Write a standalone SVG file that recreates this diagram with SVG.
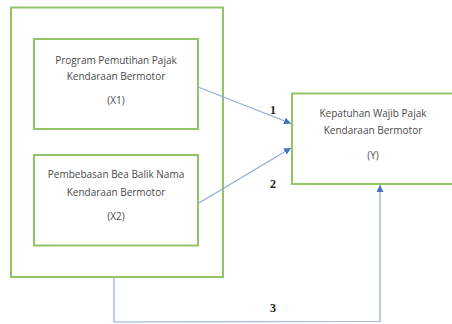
<svg xmlns="http://www.w3.org/2000/svg" width="452" height="324" viewBox="0 0 452 324">
<style>
.box{fill:#fff;stroke:#92c565;stroke-width:2}
.t{font-family:"Open Sans","Liberation Sans",sans-serif;font-size:10px;fill:#4a4a4a;text-anchor:middle}
.n{font-family:"Liberation Serif",serif;font-size:12px;font-weight:bold;fill:#222;text-anchor:middle}
.c{fill:none;stroke:#8eaadb;stroke-width:1.2}
</style>
<defs>
<marker id="ah" viewBox="0 0 10 10" refX="10" refY="5" markerWidth="7" markerHeight="7" markerUnits="userSpaceOnUse" orient="auto">
<path d="M0,0 L10,5 L0,10 z" fill="#4472c4"/>
</marker>
</defs>
<rect width="452" height="324" fill="#fff"/>
<g id="outer"><rect class="box" x="11" y="7.5" width="212" height="269.5"/></g>
<g id="x1">
<rect class="box" x="34" y="39" width="164" height="90"/>
<text class="t" x="116" y="64">Program Pemutihan Pajak</text>
<text class="t" x="116" y="80">Kendaraan Bermotor</text>
<text class="t" x="116" y="104">(X1)</text>
</g>
<g id="x2">
<rect class="box" x="34" y="155" width="164" height="90.5"/>
<text class="t" x="116" y="178">Pembebasan Bea Balik Nama</text>
<text class="t" x="116" y="195.5">Kendaraan Bermotor</text>
<text class="t" x="116" y="219.5">(X2)</text>
</g>
<g id="y">
<rect class="box" x="292" y="93.5" width="164" height="90.5"/>
<text class="t" x="373" y="117">Kepatuhan Wajib Pajak</text>
<text class="t" x="373" y="134">Kendaraan Bermotor</text>
<text class="t" x="373" y="158.5">(Y)</text>
</g>
<g id="connectors">
<path class="c" d="M198,87 L291,123.5" marker-end="url(#ah)"/>
<path class="c" d="M199,203 L291,148" marker-end="url(#ah)"/>
<path class="c" d="M114,277 L114,322 L380,321.5 L380,185" marker-end="url(#ah)"/>
<text class="n" x="273" y="114">1</text>
<text class="n" x="273" y="188">2</text>
<text class="n" x="273" y="312">3</text>
</g>
</svg>
